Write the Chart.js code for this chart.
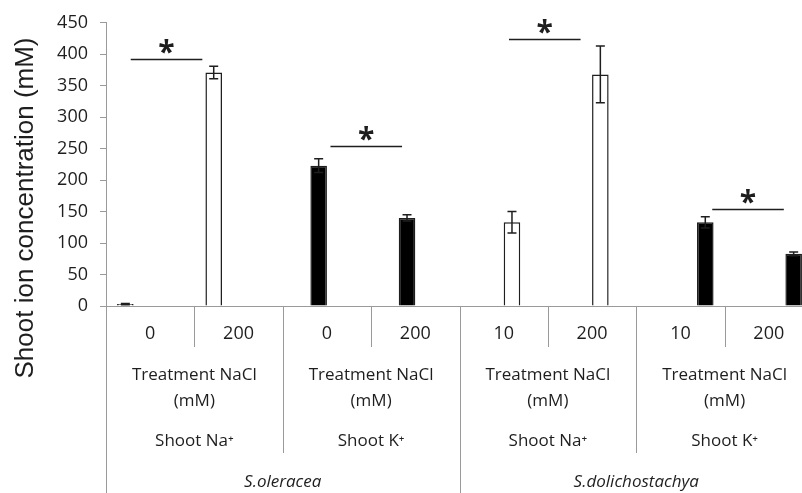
<!DOCTYPE html>
<html>
<head>
<meta charset="utf-8">
<script src="https://cdn.jsdelivr.net/npm/chart.js@4.4.1/dist/chart.umd.min.js"></script>
<style>
  html, body { margin: 0; padding: 0; background: #fff; overflow: hidden; }
  canvas { display: block; }
</style>
</head>
<body>
<canvas id="chart-ions" width="813" height="493"></canvas>
<script>
// NaCl treatment (mM) per bar position
const treatments = ["0", "200", "0", "200", "10", "200", "10", "200"];
const ionLabels = ["Shoot Na⁺", "Shoot K⁺", "Shoot Na⁺", "Shoot K⁺"];
const species = ["S.oleracea", "S.dolichostachya"];

// shoot ion concentration (mM) and error (+/-)
const naOleracea = [3, 371, null, null, null, null, null, null];
const naOleraceaErr = [1, 10, null, null, null, null, null, null];
const kOleracea = [null, null, 223, 140, null, null, null, null];
const kOleraceaErr = [null, null, 11, 5, null, null, null, null];
const naDolicho = [null, null, null, null, 133, 368, null, null];
const naDolichoErr = [null, null, null, null, 17, 45, null, null];
const kDolicho = [null, null, null, null, null, null, 133, 83];
const kDolichoErr = [null, null, null, null, null, null, 9, 3];

// significance markers: category span and height (mM)
const sigFrom = [-0.22, 2.04, 4.06, 6.36];
const sigTo = [0.59, 2.85, 4.87, 7.17];
const sigLevel = [393, 254, 424, 154];

const AXIS_GREY = "#9a9a9a";
const TEXT = "#1e1e1e";
const FONT = "'Open Sans', sans-serif";

const annotate = {
  id: "annotate",
  afterDatasetsDraw(chart) {
    const { ctx } = chart;
    const x = chart.scales.x;
    const y = chart.scales.y;

    // error bars
    ctx.save();
    ctx.strokeStyle = TEXT;
    ctx.lineWidth = 1.5;
    chart.data.datasets.forEach((ds, di) => {
      const meta = chart.getDatasetMeta(di);
      ds.data.forEach((v, i) => {
        if (v == null || ds.errors[i] == null) return;
        const bx = meta.data[i].x;
        const top = y.getPixelForValue(v + ds.errors[i]);
        const bot = y.getPixelForValue(v - ds.errors[i]);
        ctx.beginPath();
        ctx.moveTo(bx, top); ctx.lineTo(bx, bot);
        ctx.moveTo(bx - 4.5, top); ctx.lineTo(bx + 4.5, top);
        ctx.moveTo(bx - 4.5, bot); ctx.lineTo(bx + 4.5, bot);
        ctx.stroke();
      });
    });

    // significance lines
    ctx.lineWidth = 1.5;
    ctx.fillStyle = TEXT;
    ctx.font = "bold 30px " + FONT;
    ctx.textAlign = "center";
    ctx.textBaseline = "alphabetic";
    sigLevel.forEach((lv, k) => {
      const x0 = x.getPixelForValue(sigFrom[k]);
      const x1 = x.getPixelForValue(sigTo[k]);
      const ly = Math.round(y.getPixelForValue(lv)) + 0.5;
      ctx.beginPath();
      ctx.moveTo(x0, ly); ctx.lineTo(x1, ly);
      ctx.stroke();
      ctx.fillText("*", (x0 + x1) / 2, ly + 2);
    });
    ctx.restore();
  },
  afterDraw(chart) {
    const { ctx } = chart;
    const x = chart.scales.x;
    const H = chart.height;
    const base = chart.chartArea.bottom;

    // separators of the multi-level axis
    ctx.save();
    ctx.strokeStyle = AXIS_GREY;
    ctx.lineWidth = 1;
    for (let i = -1; i < treatments.length - 1; i++) {
      const bx = Math.round(x.getPixelForValue(i + 0.5)) + 0.5;
      let end = 347;
      if (i === -1 || i === 3) end = H;
      else if (i === 1 || i === 5) end = 453;
      ctx.beginPath();
      ctx.moveTo(bx, base); ctx.lineTo(bx, end);
      ctx.stroke();
    }

    ctx.fillStyle = TEXT;
    ctx.textAlign = "center";
    ctx.textBaseline = "middle";
    ctx.font = "17px " + FONT;
    ionLabels.forEach((lab, k) => {
      const cx = x.getPixelForValue(2 * k + 0.5);
      ctx.fillText("Treatment NaCl", cx, 375);
      ctx.fillText("(mM)", cx, 401);
      ctx.fillText(lab, cx, 441);
    });
    ctx.font = "italic 17px " + FONT;
    species.forEach((lab, k) => {
      ctx.fillText(lab, x.getPixelForValue(4 * k + 1.5), 482);
    });

    // y axis title
    ctx.translate(33, 208);
    ctx.rotate(-Math.PI / 2);
    ctx.textBaseline = "alphabetic";
    ctx.font = "26px 'Liberation Sans', Arial, sans-serif";
    ctx.fillText("Shoot ion concentration (mM)", 0, 0);
    ctx.restore();
  }
};

const barStyle = (fill, data, errors) => ({
  data,
  errors,
  backgroundColor: fill,
  borderColor: TEXT,
  borderWidth: 1.5,
  borderSkipped: "bottom",
});

new Chart(document.getElementById("chart-ions"), {
  type: "bar",
  data: {
    labels: treatments,
    datasets: [
      { label: "Na S.oleracea", ...barStyle("#ffffff", naOleracea, naOleraceaErr) },
      { label: "K S.oleracea", ...barStyle("#000000", kOleracea, kOleraceaErr) },
      { label: "Na S.dolichostachya", ...barStyle("#ffffff", naDolicho, naDolichoErr) },
      { label: "K S.dolichostachya", ...barStyle("#000000", kDolicho, kDolichoErr) },
    ],
  },
  options: {
    responsive: false,
    animation: false,
    devicePixelRatio: 1,
    layout: { padding: { top: 19, right: 0, left: 0, bottom: 0 } },
    datasets: { bar: { categoryPercentage: 0.75, barPercentage: 1 } },
    scales: {
      x: {
        grid: { display: false, drawTicks: false },
        border: { color: AXIS_GREY, width: 1 },
        ticks: { color: TEXT, font: { family: FONT, size: 18 }, padding: 17, maxRotation: 0 },
        afterFit(scale) { scale.height = 187; },
      },
      y: {
        min: 0,
        max: 450,
        ticks: { stepSize: 50, color: TEXT, font: { family: FONT, size: 18 }, padding: 12 },
        grid: { drawOnChartArea: false, tickLength: 6, color: AXIS_GREY },
        border: { color: AXIS_GREY, width: 1 },
        afterFit(scale) { scale.width = 106; },
      },
    },
    plugins: {
      legend: { display: false },
      tooltip: { enabled: false },
    },
  },
  plugins: [annotate],
});
</script>
</body>
</html>
